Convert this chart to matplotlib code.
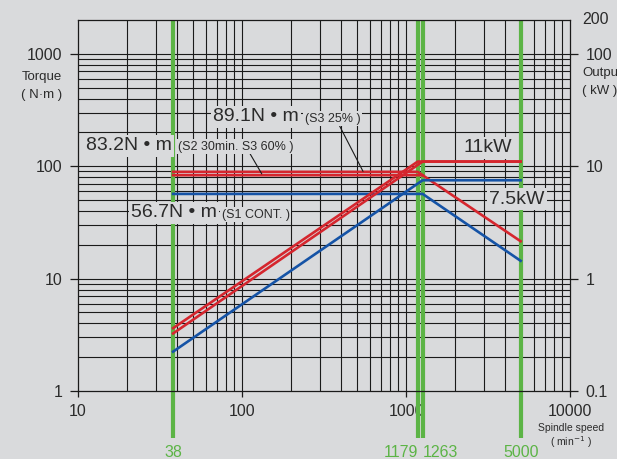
import matplotlib
matplotlib.use("Agg")
import matplotlib.pyplot as plt
import matplotlib.transforms as mtransforms

# ---- data ----
speed_marks = [38, 1179, 1263, 5000]
speed_labels = ["38", "1179", "1263", "5000"]

s1_torque_speed = [38, 1263, 5000]
s1_torque = [56.7, 56.7, 14.4]
s1_power_speed = [38, 1263, 5000]
s1_power_kw = [0.224, 7.5, 7.5]

s2_torque_speed = [38, 1263, 5000]
s2_torque = [83.2, 83.2, 21.5]
s2_power_speed = [38, 1263, 5000]
s2_power_kw = [0.325, 11.0, 11.0]

s3_torque_speed = [38, 1179, 1263]
s3_torque = [89.1, 89.1, 83.2]
s3_power_speed = [38, 1179, 5000]
s3_power_kw = [0.362, 11.0, 11.0]

torque_ticks = [1, 10, 100, 1000]
torque_ticklabels = ["1", "10", "100", "1000"]
power_ticks = [0.1, 1, 10, 100]
power_ticklabels = ["0.1", "1", "10", "100"]
speed_ticks = [10, 100, 1000, 10000]
speed_ticklabels = ["10", "100", "1000", "10000"]

# ---- palette ----
BG = "#d9dadc"
RED = "#d5262e"
BLUE = "#1553a6"
GREEN = "#5cb446"
INK = "#1a1a1a"
TXT = "#2b2b2b"
LW = 1.9

plt.rcParams.update({
    "font.family": ["Liberation Sans", "DejaVu Sans"],
    "text.color": TXT,
    "xtick.color": INK,
    "ytick.color": INK,
    "xtick.labelcolor": TXT,
    "ytick.labelcolor": TXT,
})

fig = plt.figure(figsize=(6.17, 4.59), dpi=100, facecolor=BG)
ax = fig.add_axes([78 / 617, 68 / 459, 492 / 617, 371 / 459])
ax.set_facecolor(BG)
ax.set_xscale("log")
ax.set_yscale("log")
ax.set_xlim(10, 10000)
ax.set_ylim(1, 2000)

# grid: every 1..9 multiple inside each decade
for d in (10, 100, 1000):
    for k in range(1, 10):
        v = d * k
        if 10 < v < 10000:
            ax.axvline(v, color=INK, lw=0.8, zorder=1)
for d in (1, 10, 100):
    for k in range(1, 10):
        v = d * k
        if 1 < v < 2000:
            ax.axhline(v, color=INK, lw=0.8, zorder=1)
ax.axhline(1000, color=INK, lw=0.8, zorder=1)

for sp in ax.spines.values():
    sp.set_color(INK)
    sp.set_linewidth(0.9)

ax.set_xticks(speed_ticks)
ax.set_xticklabels(speed_ticklabels, fontsize=11.5)
ax.set_yticks(torque_ticks)
ax.set_yticklabels(torque_ticklabels, fontsize=11.5)
ax.minorticks_off()
ax.tick_params(axis="x", direction="out", length=4.5, width=0.9, pad=5)
ax.tick_params(axis="y", direction="out", length=6, width=0.9, pad=5)

# green speed marks, running below the axis
trans = mtransforms.blended_transform_factory(ax.transData, ax.transAxes)
for s in speed_marks:
    ax.plot([s, s], [-0.127, 1.0], transform=trans, color=GREEN, lw=3,
            clip_on=False, zorder=2, solid_capstyle="butt")
ha_map = {"38": "center", "1179": "right", "1263": "left", "5000": "center"}
for s, lab in zip(speed_marks, speed_labels):
    ax.text(s, -0.165, lab, transform=trans, color=GREEN, fontsize=11.5,
            ha=ha_map[lab], va="center")

# torque curves
ax.plot(s3_torque_speed, s3_torque, color=RED, lw=LW, zorder=3)
ax.plot(s2_torque_speed, s2_torque, color=RED, lw=LW, zorder=3)
ax.plot(s1_torque_speed, s1_torque, color=BLUE, lw=LW, zorder=3)

# output axis
ax2 = ax.twinx()
ax2.set_yscale("log")
ax2.set_ylim(0.1, 200)
ax2.set_yticks(power_ticks)
ax2.set_yticklabels(power_ticklabels, fontsize=11.5)
ax2.minorticks_off()
ax2.tick_params(axis="y", direction="out", length=6, width=0.9, pad=5)
for sp in ax2.spines.values():
    sp.set_visible(False)

ax2.plot(s3_power_speed, s3_power_kw, color=RED, lw=LW, zorder=3)
ax2.plot(s2_power_speed, s2_power_kw, color=RED, lw=LW, zorder=3)
ax2.plot(s1_power_speed, s1_power_kw, color=BLUE, lw=LW, zorder=3)

# axis captions
fig.text(582 / 617, 1 - 20 / 459, "200", fontsize=11.5, va="center", ha="left")
fig.text(42 / 617, 1 - 77 / 459, "Torque", fontsize=9.5, ha="center", va="center")
fig.text(42 / 617, 1 - 95 / 459, "( N·m )", fontsize=9.5, ha="center", va="center")
fig.text(582 / 617, 1 - 73 / 459, "Output", fontsize=9.5, ha="left", va="center")
fig.text(582 / 617, 1 - 91 / 459, "( kW )", fontsize=9.5, ha="left", va="center")
fig.text(571 / 617, 1 - 428 / 459, "Spindle speed", fontsize=7.5, ha="center", va="center")
fig.text(571 / 617, 1 - 442 / 459, "( min$^{-1}$ )", fontsize=7.5, ha="center", va="center")

# labels with background boxes
box = dict(boxstyle="square,pad=0.12", facecolor=BG, edgecolor="none")


def label(x, y, s, size):
    ax2.text(x, y, s, transform=ax.transData, fontsize=size, ha="left",
             va="center", bbox=box, zorder=6)


label(11.2, 152, "83.2N • m", 14)
label(40.7, 149, "(S2 30min. S3 60% )", 9)
label(66.5, 275, "89.1N • m", 14)
label(242, 264, "(S3 25% )", 9)
label(21, 38.5, "56.7N • m", 14)
label(75.5, 36.9, "(S1 CONT. )", 9)
label(2228, 146, "11kW", 14)
label(3206, 51, "7.5kW", 14)

# leader lines
ax2.annotate("", xy=(132, 85.5), xytext=(112, 129), xycoords=ax.transData,
             textcoords=ax.transData,
             arrowprops=dict(arrowstyle="-", lw=0.8, color=INK, shrinkA=0, shrinkB=0))
ax2.annotate("", xy=(547, 90), xytext=(385, 243), xycoords=ax.transData,
             textcoords=ax.transData,
             arrowprops=dict(arrowstyle="-", lw=0.8, color=INK, shrinkA=0, shrinkB=0))

fig.savefig("out.png", dpi=100, facecolor=BG)
